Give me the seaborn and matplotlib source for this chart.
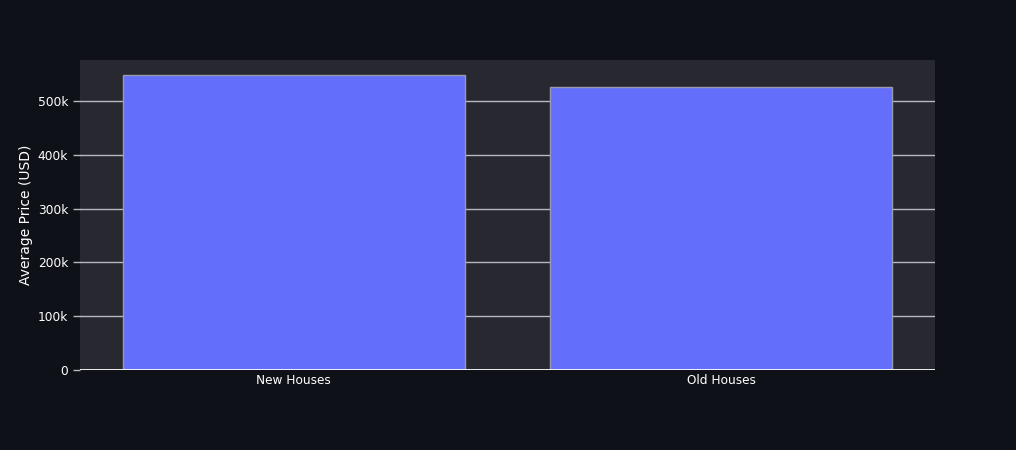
import matplotlib
matplotlib.use("Agg")
import matplotlib.pyplot as plt
from matplotlib.ticker import FuncFormatter
import seaborn as sns
import pandas as pd

categories = ["New Houses", "Old Houses"]
avg_price = [548300, 526600]
y_ticks = [0, 100000, 200000, 300000, 400000, 500000]

paper = "#0f1118"
plot_bg = "#282831"
grid = "#b8b8c0"

df = pd.DataFrame({"category": categories, "price": avg_price})

fig = plt.figure(figsize=(10.16, 4.5), dpi=100, facecolor=paper)
ax = fig.add_axes([80 / 1016, 1 - 370 / 450, 855 / 1016, 310 / 450])
ax.set_facecolor(plot_bg)

sns.barplot(data=df, x="category", y="price", color="#636efa", saturation=1,
            width=0.8, edgecolor="#9a9ab0", linewidth=1, ax=ax, zorder=3)

ax.set_xlim(-0.5, 1.5)
ax.set_ylim(0, 576000)
ax.set_yticks(y_ticks)
ax.yaxis.set_major_formatter(FuncFormatter(lambda v, p: "0" if v == 0 else f"{int(v / 1000)}k"))
ax.grid(axis="y", color=grid, linewidth=1, zorder=0)
ax.set_axisbelow(True)
ax.axhline(0, color="white", linewidth=2, zorder=4)

for s in ax.spines.values():
    s.set_visible(False)

ax.tick_params(axis="y", colors="white", labelsize=8.8, length=5, color=grid, width=1)
ax.tick_params(axis="x", colors="white", labelsize=8.7, length=0, pad=3)
ax.set_xlabel("")
ax.set_ylabel("Average Price (USD)", color="white", fontsize=10)
ax.yaxis.set_label_coords(-47 / 855, 0.5)

fig.savefig("out.png", dpi=100, facecolor=paper)
